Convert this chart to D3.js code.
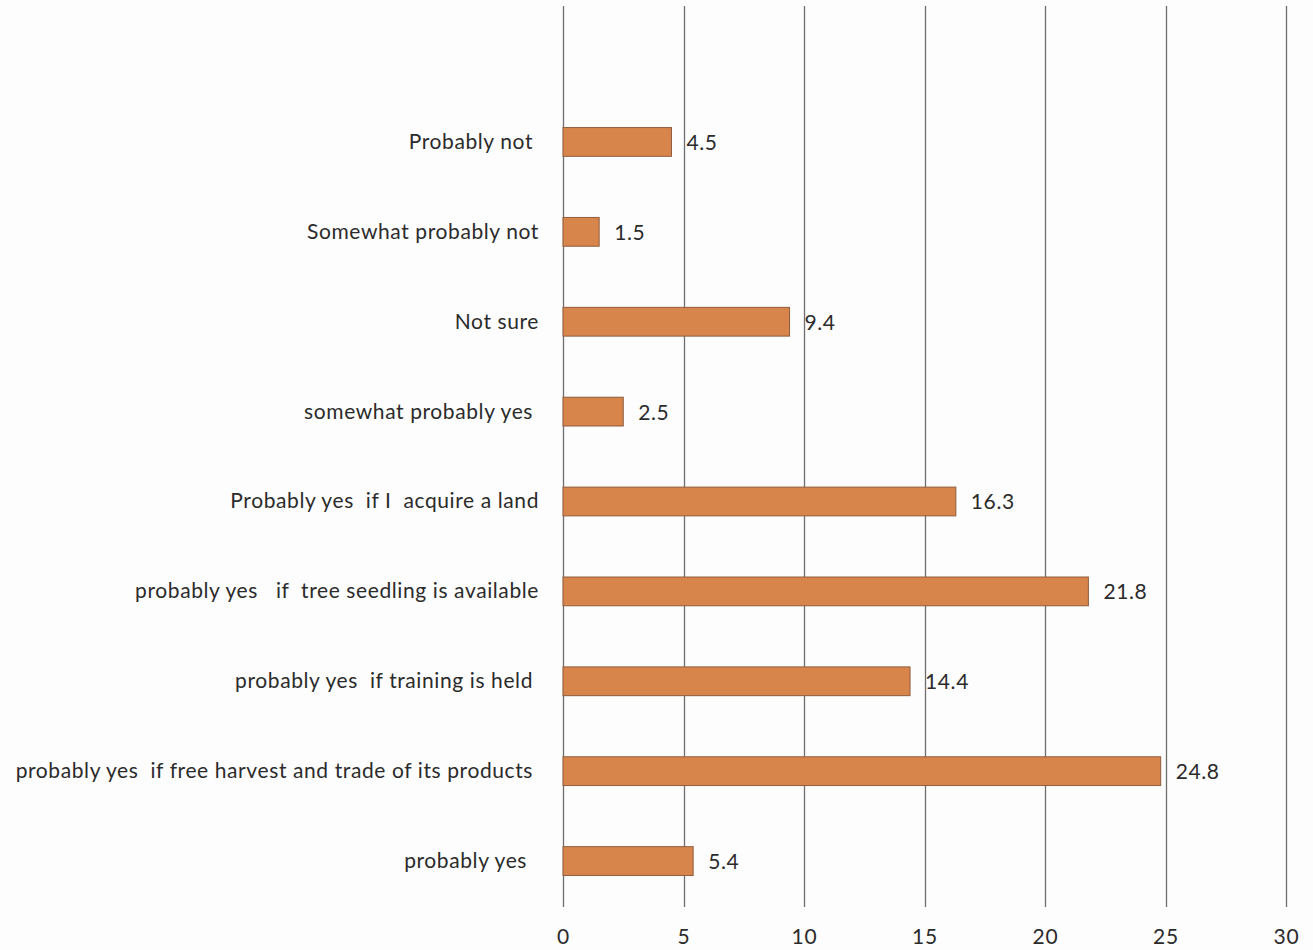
<!DOCTYPE html>
<html>
<head>
<meta charset="utf-8">
<script src="https://cdn.jsdelivr.net/npm/d3@7"></script>
<style>
  html, body { margin: 0; padding: 0; background: #fdfdfd; }
  svg { display: block; }
  text { font-family: Lato, "Open Sans", sans-serif; fill: #2b2b2b; }
</style>
</head>
<body>
<svg id="chart" width="1313" height="950"></svg>
<script>
const categories = [
  "Probably not ",
  "Somewhat probably not",
  "Not sure",
  "somewhat probably yes ",
  "Probably yes  if I  acquire a land",
  "probably yes   if  tree seedling is available",
  "probably yes  if training is held ",
  "probably yes  if free harvest and trade of its products ",
  "probably yes  "
];
const values = [4.5, 1.5, 9.4, 2.5, 16.3, 21.8, 14.4, 24.8, 5.4];
const tickValues = [0, 5, 10, 15, 20, 25, 30];

const svg = d3.select("#chart");
const x = d3.scaleLinear().domain([0, 30]).range([563, 1286]);
const y = d3.scaleBand().domain(categories).range([97, 906])
  .paddingInner(0.68).paddingOuter(0.34);

// gridlines
svg.append("g").selectAll("line").data(tickValues).join("line")
  .attr("x1", d => Math.round(x(d)) + 0.5).attr("x2", d => Math.round(x(d)) + 0.5)
  .attr("y1", 6).attr("y2", 907)
  .attr("stroke", "#6e6e6e").attr("stroke-width", 1.3);

// tick labels
const xAxis = d3.axisBottom(x).tickValues(tickValues).tickSize(0).tickPadding(0);
const gx = svg.append("g").attr("transform", "translate(0,929)").call(xAxis);
gx.select(".domain").remove();
gx.selectAll("text").attr("font-size", 21).attr("fill", "#2b2b2b")
  .attr("letter-spacing", "0.8px")
  .style("font-family", "Lato, 'Open Sans', sans-serif");

// bars
svg.append("g").selectAll("rect").data(values).join("rect")
  .attr("x", x(0))
  .attr("y", (d, i) => y(categories[i]))
  .attr("width", d => x(d) - x(0))
  .attr("height", y.bandwidth())
  .attr("fill", "#d8854c")
  .attr("stroke", "#8f5c3c").attr("stroke-width", 1);

// value labels
svg.append("g").selectAll("text").data(values).join("text")
  .attr("x", d => x(d) + 15)
  .attr("y", (d, i) => y(categories[i]) + y.bandwidth() / 2)
  .attr("dy", "0.38em")
  .attr("font-size", 21)
  .attr("letter-spacing", "0.6px")
  .text(d => d.toFixed(1));

// category labels
svg.append("g").selectAll("text").data(categories).join("text")
  .attr("x", 539)
  .attr("y", d => y(d) + y.bandwidth() / 2)
  .attr("dy", "0.33em")
  .attr("text-anchor", "end")
  .attr("font-size", 21)
  .attr("letter-spacing", "0.6px")
  .style("white-space", "pre")
  .text(d => d);
</script>
</body>
</html>
